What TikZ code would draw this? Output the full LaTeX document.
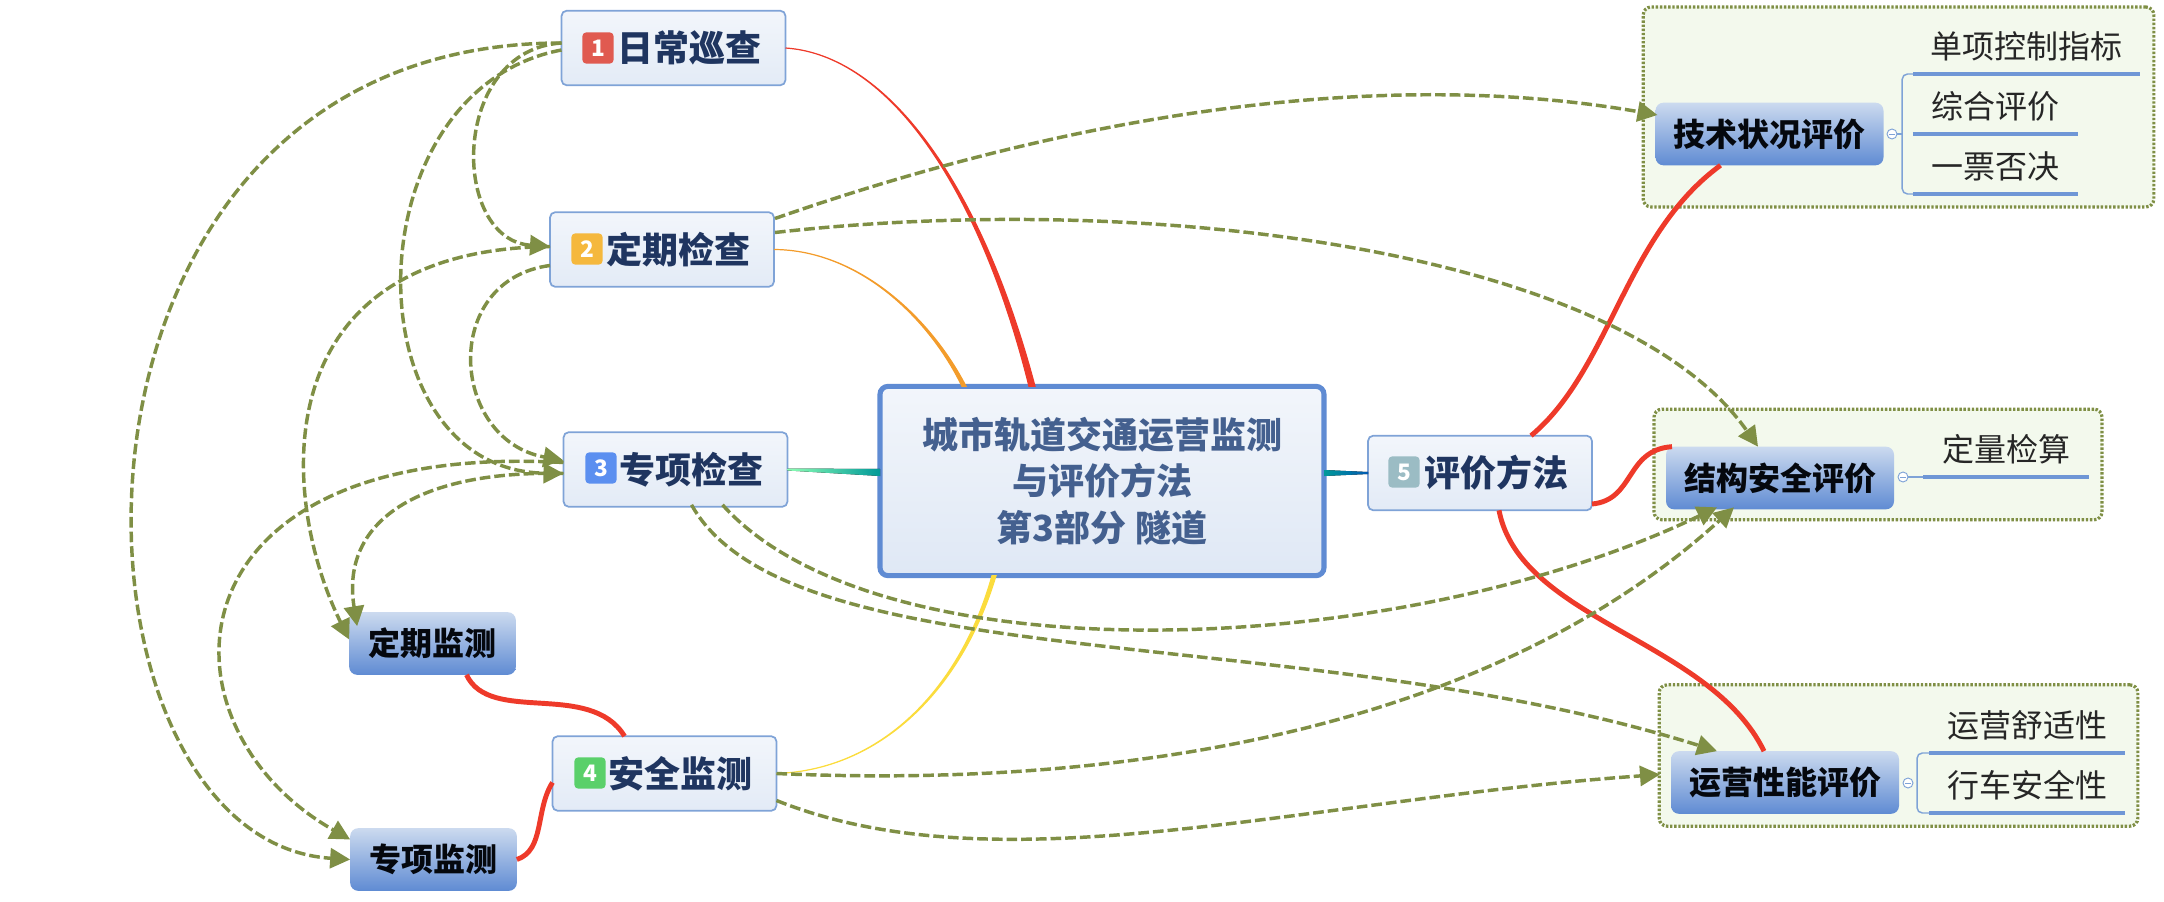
\documentclass[tikz,border=0pt]{standalone}
\usepackage{fontspec}
\setmainfont{Noto Sans CJK SC}
\usetikzlibrary{arrows.meta,calc}
\definecolor{linkgreen}{HTML}{7F8F45}
\definecolor{boxblue}{HTML}{7FA3D7}
\definecolor{leafblue}{HTML}{6F97D6}
\definecolor{rootblue}{HTML}{5F8BD3}
\definecolor{navy}{HTML}{1F3560}
\definecolor{rootink}{HTML}{44608F}
\definecolor{redline}{HTML}{EE3A2A}
\definecolor{orangeline}{HTML}{F39C2B}
\definecolor{yellowline}{HTML}{FBDC3D}
\definecolor{tagred}{HTML}{E05A50}
\definecolor{tagorange}{HTML}{F5B83D}
\definecolor{tagblue}{HTML}{5B8FF0}
\definecolor{taggreen}{HTML}{5AD06A}
\definecolor{taggray}{HTML}{9BBCC4}
\newcommand{\taper}[6]{\filldraw[#1, line width=.9pt] #2 .. controls #3 and #4 .. ($#5+(-#6,0)$) -- ($#5+(#6,0)$) .. controls ($#4+(#6,0)$) and #3 .. #2 -- cycle;}
\begin{document}
\begin{tikzpicture}[x=0.75pt, y=-0.75pt,
        topic/.style={rectangle, rounded corners=4pt, draw=boxblue, line width=1.3pt, outer sep=0pt, top color=white!90!boxblue, bottom color=boxblue!22, minimum width=168pt, minimum height=56pt, inner sep=0pt, text=navy, font=\fontsize{27}{30}\selectfont\bfseries},
        rootbox/.style={rectangle, rounded corners=6pt, draw=rootblue, line width=3.8pt, outer sep=0pt, top color=white!90!boxblue, bottom color=boxblue!25, minimum width=333pt, minimum height=142pt, align=center, text=rootink, font=\fontsize{27}{35}\selectfont\bfseries},
        subject/.style={rectangle, rounded corners=6pt, outer sep=0pt, top color=boxblue!40, bottom color=rootblue, minimum height=47pt, inner sep=0pt, text=black!85!navy, font=\fontsize{24}{27}\selectfont\bfseries},
        badge/.style={rectangle, rounded corners=3pt, fill=#1, minimum size=23.5pt, inner sep=0pt, text=white, font=\fontsize{17}{17}\selectfont\bfseries},
        groupbox/.style={rectangle, rounded corners=6pt, draw=linkgreen, line width=2.4pt, dash pattern=on 1.8pt off 1.3pt, fill=green!30!olive!7!white, inner sep=0pt},
        leaf/.style={minimum height=41pt, inner sep=0pt, outer sep=0pt, text=black!85, font=\fontsize{24}{27}\selectfont},
        fold/.style={circle, draw=boxblue, line width=.7pt, fill=white, minimum size=7.5pt, inner sep=0pt, path picture={\draw[boxblue, line width=.6pt] ([xshift=1.5pt]path picture bounding box.west) -- ([xshift=-1.5pt]path picture bounding box.east);}},
        leaf line/.style={leafblue, line width=3pt},
        stem/.style={boxblue, line width=1.1pt, rounded corners=4pt},
        link/.style={linkgreen, line width=2.6pt, dash pattern=on 8pt off 3pt, -{Triangle[length=15pt, width=15pt, fill=linkgreen]}},
        branch/.style={redline, line width=3.7pt}]
    \useasboundingbox (0,0) rectangle (2164,902);

    % background groups
    \node[groupbox, minimum width=383pt, minimum height=150pt] (groupA) at (1898.5,107) {};
    \node[groupbox, minimum width=336pt, minimum height=83pt] (groupB) at (1878,464.5) {};
    \node[groupbox, minimum width=359pt, minimum height=106pt] (groupC) at (1898.5,755.5) {};

    \node[rootbox] (root) at (1102,481) {城市轨道交通运营监测\\与评价方法\\第3部分 隧道};
    \node[topic] (daily) at (673.5,48) {\hspace*{24pt}日常巡查};
    \node[topic] (regular) at (662,249.5) {\hspace*{24pt}定期检查};
    \node[topic] (special) at (675.5,469.5) {\hspace*{24pt}专项检查};
    \node[topic] (safety) at (664.5,773.5) {\hspace*{24pt}安全监测};
    \node[topic] (method) at (1480,473) {\hspace*{24pt}评价方法};
    \node[badge=tagred] (tag1) at (598,48) {1};
    \node[badge=tagorange] (tag2) at (587,249) {2};
    \node[badge=tagblue] (tag3) at (601,468) {3};
    \node[badge=taggreen] (tag4) at (590,773) {4};
    \node[badge=taggray] (tag5) at (1404,472) {5};

    \node[subject, minimum width=125pt] (monA) at (432.5,643.5) {定期监测};
    \node[subject, minimum width=125pt] (monB) at (433.5,859.5) {专项监测};
    \node[subject, minimum width=171pt] (tech) at (1769.5,134) {技术状况评价};
    \node[subject, minimum width=171pt] (struct) at (1780,478) {结构安全评价};
    \node[subject, minimum width=171pt] (oper) at (1785,782.5) {运营性能评价};

    \node[leaf, anchor=south, minimum width=170pt] (leafA) at (2026.5,74) {单项控制指标};
    \node[leaf, anchor=south, minimum width=124pt] (leafB) at (1995.5,134) {综合评价};
    \node[leaf, anchor=south, minimum width=124pt] (leafC) at (1995.5,194) {一票否决};
    \node[leaf, anchor=south, minimum width=124pt] (leafD) at (2006,477) {定量检算};
    \node[leaf, anchor=south, minimum width=147pt] (leafE) at (2027,753) {运营舒适性};
    \node[leaf, anchor=south, minimum width=147pt] (leafF) at (2027,813) {行车安全性};
    \foreach \l in {leafA,leafB,leafC,leafD,leafE,leafF}
        \draw[leaf line] (\l.south west) -- (\l.south east);
    \node[fold] (foldA) at (1892,134) {};
    \node[fold] (foldB) at (1903,477) {};
    \node[fold] (foldC) at (1908,783) {};
    \draw[stem] (leafA.south west) -- ++(-11,0) |- (leafC.south west);
    \draw[stem] (foldA.east) -- ++(5,0);
    \draw[stem] (foldB.east) -- (leafD.south west);
    \draw[stem] (leafE.south west) -- ++(-12,0) |- (leafF.south west);

    % branches into the root
    \coordinate (rootA) at ($(root.north west)+(152,0)$);
    \coordinate (rootB) at ($(root.north west)+(84,0)$);
    \coordinate (rootC) at ($(root.south west)+(114,0)$);
    \taper{redline}{(daily.east)}{(890,55)}{(980,190)}{(rootA)}{3}
    \taper{orangeline}{(regular.east)}{(860,250)}{(930,320)}{(rootB)}{2}
    \taper{yellowline}{(safety.east)}{(880,770)}{(960,690)}{(rootC)}{2}
    \fill[left color=cyan!35!green!45!white, right color=teal!80!cyan] ($(special.east)+(0,-1)$) -- ($(special.east)+(0,1)$) -- ($(root.west)+(0,-5)$) -- ($(root.west)+(0,-12)$) -- cycle;
    \fill[left color=teal!80!cyan, right color=blue!50!cyan!70!black] ($(root.east)+(0,-5)$) -- ($(root.east)+(0,-11)$) -- ($(method.west)+(0,-1)$) -- ($(method.west)+(0,1)$) -- cycle;

    \draw[branch] (method.north) ++(51,0) .. controls (1610,370) and (1625,235) .. ($(tech.south)+(-49,0)$);
    \draw[branch] ($(method.east)+(0,31)$) .. controls (1635,500) and (1625,450) .. ($(struct.north west)+(6,0)$);
    \draw[branch] ($(method.south)+(19,0)$) .. controls (1520,620) and (1710,640) .. ($(oper.north)+(-21,0)$);
    \draw[branch] ($(monA.south)+(34,0)$) .. controls (490,725) and (590,680) .. ($(safety.north)+(-40,0)$);
    \draw[branch] (monB.east) .. controls (545,850) and (535,810) .. ($(safety.west)+(0,9)$);

    % relations between topics
    \draw[link] ($(daily.west)+(0,-5)$) .. controls (20,43) and (45,840) .. (monB.west);
    \draw[link] ($(daily.west)+(0,2)$) .. controls (350,90) and (350,470) .. ($(special.west)+(0,4)$);
    \draw[link] ($(daily.west)+(0,-5)$) .. controls (450,50) and (450,240) .. ($(regular.west)+(0,-3)$);
    \draw[link] ($(regular.west)+(0,-3)$) .. controls (260,250) and (280,500) .. ($(monA.west)+(0,-4)$);
    \draw[link] ($(regular.west)+(0,16)$) .. controls (440,280) and (450,440) .. ($(special.west)+(0,-9)$);
    \draw[link] ($(special.west)+(0,-7)$) .. controls (160,440) and (150,726) .. ($(monB.west)+(0,-20)$);
    \draw[link] ($(special.west)+(0,4)$) .. controls (420,470) and (340,520) .. ($(monA.north west)+(8,14)$);
    \draw[link] ($(regular.east)+(1,-31)$) .. controls (1100,105) and (1400,70) .. ($(tech.west)+(2,-19)$);
    \draw[link] ($(regular.east)+(1,-17)$) .. controls (1150,190) and (1620,250) .. ($(struct.north)+(-22,0)$);
    \draw[link] ($(special.south)+(47,-2)$) .. controls (880,680) and (1400,660) .. ($(struct.south)+(-63,-2)$);
    \draw[link] ($(special.south)+(16,-2)$) .. controls (790,680) and (1300,620) .. ($(oper.north)+(-68,0)$);
    \draw[link] (safety.east) .. controls (1150,790) and (1500,720) .. ($(struct.south)+(-46,-2)$);
    \draw[link] ($(safety.east)+(0,27)$) .. controls (1000,890) and (1300,800) .. ($(oper.west)+(-11,-8)$);
\end{tikzpicture}
\end{document}
